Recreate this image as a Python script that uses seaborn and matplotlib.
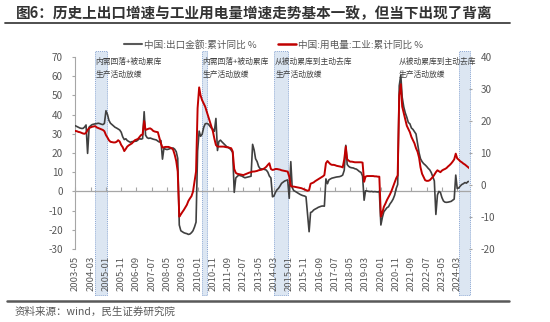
import numpy as np
import pandas as pd
import matplotlib
matplotlib.use("Agg")
import matplotlib.pyplot as plt
import matplotlib.dates as mdates
from matplotlib.patches import Rectangle
from matplotlib.lines import Line2D
from matplotlib.transforms import blended_transform_factory
import seaborn as sns

sns.set_theme(style="white")
plt.rcParams['font.family'] = ['Noto Sans CJK SC', 'DejaVu Sans']
plt.rcParams['axes.unicode_minus'] = False

# ---------------- data ----------------
start_month = "2003-05"

# 中国:出口金额:累计同比 %  (left axis), monthly 2003-05 .. 2024-11
export_yoy = [
    34.2, 33.8, 33.4, 33.0, 32.8, 32.8, 33.5, 34.6,                      # 2003 May-Dec
    19.8, 33.5, 34.2, 34.8, 35.0, 35.2, 35.3, 35.5, 35.3, 35.0, 34.8, 35.4,  # 2004
    42.0, 40.0, 37.0, 35.5, 34.8, 34.0, 33.4, 33.0, 32.5, 32.0, 30.8, 28.4,  # 2005
    27.0, 27.4, 26.5, 26.0, 25.6, 25.9, 26.0, 26.1, 26.2, 26.8, 27.5, 27.2,  # 2006
    27.5, 41.5, 29.3, 28.0, 27.6, 27.8, 27.5, 27.2, 27.0, 26.8, 26.2, 25.7,  # 2007
    26.5, 16.8, 22.4, 22.0, 21.8, 22.0, 22.3, 22.5, 22.6, 22.0, 20.7, 17.2,  # 2008
    -17.5, -20.5, -21.0, -21.5, -21.8, -22.0, -22.4, -22.2, -21.5, -20.5, -18.5, -16.0,  # 2009
    21.0, 31.4, 28.7, 29.7, 33.2, 35.2, 35.4, 35.1, 34.0, 33.0, 32.4, 31.3,  # 2010
    38.0, 21.3, 26.0, 26.7, 25.8, 25.0, 24.3, 23.4, 22.8, 22.4, 21.5, 20.3,  # 2011
    -0.5, 7.0, 7.8, 8.5, 8.2, 8.0, 7.5, 7.1, 7.3, 7.5, 7.7, 7.9,            # 2012
    24.5, 21.5, 17.0, 15.5, 13.0, 11.8, 11.7, 11.6, 11.4, 11.1, 10.0, 8.0,  # 2013
    7.0, -2.8, -2.5, -0.5, 0.8, 1.6, 2.8, 4.2, 4.8, 5.4, 5.7, 6.0,          # 2014
    -3.6, 15.5, 2.0, 0.4, 0.0, -0.5, -1.0, -1.5, -1.9, -2.2, -2.4, -2.8,    # 2015
    -12.0, -21.0, -11.0, -10.6, -9.7, -9.2, -8.8, -8.3, -8.0, -7.7, -7.6, -7.7,  # 2016
    6.5, 4.0, 6.0, 6.5, 6.9, 7.1, 7.3, 7.5, 7.6, 7.7, 8.0, 8.5,            # 2017
    11.0, 24.0, 14.0, 13.0, 12.5, 12.3, 12.2, 11.8, 11.6, 11.0, 10.3, 9.9,  # 2018
    8.0, -4.6, 0.3, 0.2, 0.0, -0.1, 0.0, -0.2, -0.1, -0.2, -0.3, 0.0,      # 2019
    -17.5, -13.4, -10.6, -9.5, -8.5, -8.0, -6.5, -5.4, -4.0, -2.0, 1.5, 3.6,  # 2020
    55.0, 60.6, 49.0, 44.0, 40.9, 38.6, 35.9, 35.2, 33.0, 32.3, 31.1, 29.9,  # 2021
    25.0, 20.0, 17.0, 15.5, 14.5, 13.8, 13.0, 12.0, 11.2, 9.8, 7.6, 5.5,    # 2022
    -12.0, -1.9, 0.0, -0.5, -3.2, -5.0, -5.6, -5.7, -5.6, -5.4, -5.2, -4.6,  # 2023
    -4.0, 8.5, 1.5, 1.8, 2.8, 3.6, 4.0, 4.6, 4.3, 5.1, 5.2,                # 2024 Jan-Nov
]

# 中国:用电量:工业:累计同比 %  (right axis)
power_yoy = [
    16.9, 16.8, 16.6, 16.5, 16.3, 16.1, 16.0, 16.3,                        # 2003 May-Dec
    17.2, 17.8, 18.0, 18.2, 18.3, 18.4, 18.0, 17.8, 17.6, 17.4, 17.2, 16.8,  # 2004
    15.6, 14.8, 14.0, 13.5, 13.4, 13.3, 13.3, 13.5, 14.0, 13.6, 12.5, 11.8,  # 2005
    10.6, 11.3, 12.0, 12.4, 12.7, 13.0, 13.5, 14.0, 14.2, 14.4, 15.0, 15.6,  # 2006
    15.8, 20.0, 17.2, 17.4, 17.6, 17.7, 17.4, 16.9, 16.7, 16.6, 16.5, 14.8,  # 2007
    13.0, 11.7, 11.8, 11.9, 11.9, 11.9, 11.7, 11.5, 11.0, 9.5, 7.5, 4.2,    # 2008
    -9.9, -9.2, -8.5, -7.8, -7.0, -6.2, -5.0, -4.2, -3.5, -2.1, 1.0, 4.2,   # 2009
    24.0, 30.5, 28.0, 26.5, 25.5, 24.5, 23.0, 21.5, 20.0, 18.3, 16.8, 14.5,  # 2010
    12.5, 12.0, 12.0, 12.0, 12.0, 12.0, 11.9, 11.8, 11.8, 11.6, 11.5, 10.5,  # 2011
    5.0, 3.8, 3.5, 3.4, 3.3, 3.2, 3.1, 3.3, 3.5, 3.7, 3.9, 4.0,            # 2012
    4.2, 4.2, 4.3, 4.4, 4.6, 4.7, 4.8, 5.0, 5.3, 5.7, 6.3, 6.8,            # 2013
    5.0, 4.7, 4.8, 5.0, 5.0, 4.9, 4.8, 4.6, 4.5, 4.4, 4.3, 4.2,            # 2014
    2.6, -0.3, -0.5, -0.5, -0.6, -0.7, -0.8, -0.9, -1.0, -1.2, -1.4, -1.6,  # 2015
    -1.8, -1.6, 0.4, 0.6, 0.8, 1.2, 1.5, 1.8, 2.1, 2.4, 2.7, 3.1,          # 2016
    6.8, 7.5, 7.0, 6.5, 6.3, 6.3, 6.2, 6.0, 5.9, 5.8, 5.7, 5.5,            # 2017
    8.0, 12.0, 8.0, 7.6, 7.3, 7.3, 7.2, 7.1, 7.1, 7.1, 7.1, 7.1,           # 2018
    7.0, 1.0, 2.6, 2.8, 2.8, 2.8, 2.8, 2.8, 2.7, 2.7, 2.6, 2.6,            # 2019
    -9.9, -8.5, -6.8, -5.8, -4.7, -3.8, -2.9, -1.8, -0.5, 0.8, 2.1, 3.0,   # 2020
    28.0, 31.5, 24.5, 22.4, 20.5, 18.5, 17.5, 16.5, 15.0, 14.0, 13.0, 11.5,  # 2021
    10.4, 8.5, 5.5, 3.5, 2.5, 1.5, 1.3, 1.3, 1.5, 2.0, 2.5, 3.2,           # 2022
    4.0, 4.6, 4.3, 4.0, 4.5, 4.8, 5.0, 5.3, 5.8, 6.2, 6.7, 7.3,            # 2023
    8.0, 9.8, 8.3, 7.9, 7.4, 7.1, 6.7, 6.4, 6.0, 5.6, 5.2,                 # 2024 Jan-Nov
]

series_names = ["中国:出口金额:累计同比 %", "中国:用电量:工业:累计同比 %"]
left_ticks = [-30, -20, -10, 0, 10, 20, 30, 40, 50, 60, 70]
right_ticks = [-20, -10, 0, 10, 20, 30, 40]

# shaded periods (start, end)
band_periods = [("2004-05-20", "2005-01-20"),
                ("2010-03-28", "2010-07-02"),
                ("2014-03-05", "2014-11-28"),
                ("2024-04-12", "2024-11-01")]
annot_dates = ["2004-06-08", "2010-04-01", "2014-03-25", "2020-12-20"]
annot_line1 = ["内需回落+被动累库", "内需回落+被动累库", "从被动累库到主动去库", "从被动累库到主动去库"]
annot_line2 = ["生产活动放缓", "生产活动放缓", "生产活动放缓", "生产活动放缓"]

title = "图6：历史上出口增速与工业用电量增速走势基本一致，但当下出现了背离"
source = "资料来源：wind，民生证券研究院"

assert len(export_yoy) == len(power_yoy)
dates = pd.date_range(start_month, periods=len(export_yoy), freq="MS")
df = pd.DataFrame({"date": dates, "export": export_yoy, "power": power_yoy})

GREY = "#404040"
RED = "#c00000"
TXT = "#595959"
AX = "#a6a6a6"

fig = plt.figure(figsize=(5.5, 3.22), dpi=100)
ax = fig.add_axes([75.3 / 550, 1 - 249 / 322, (469.5 - 75.3) / 550, 192 / 322])
ax2 = ax.twinx()

# bands
trans = blended_transform_factory(ax.transData, ax.transAxes)
for s, e in band_periods:
    x0 = mdates.date2num(pd.Timestamp(s))
    x1 = mdates.date2num(pd.Timestamp(e))
    r = Rectangle((x0, -0.24), x1 - x0, 1.272, transform=trans,
                  facecolor="#dce6f2", edgecolor="#8da9d4", lw=0.7,
                  linestyle=(0, (1, 1)), clip_on=False, zorder=0)
    ax.add_patch(r)

sns.lineplot(data=df, x="date", y="export", ax=ax, color=GREY, lw=1.2, zorder=3)
sns.lineplot(data=df, x="date", y="power", ax=ax2, color=RED, lw=1.4, zorder=3)

ax.set_xlim(dates[0], dates[-1])
ax.set_ylim(-30, 70)
ax2.set_ylim(-20, 40)
ax.set_yticks(left_ticks)
ax2.set_yticks(right_ticks)
ax.set_xlabel("")
ax.set_ylabel("")
ax2.set_ylabel("")

xt = dates[::10]
ax.set_xticks(xt)
ax.xaxis.set_major_formatter(mdates.DateFormatter("%Y-%m"))
ax.tick_params(axis="x", length=0, pad=5, labelsize=6.8, labelcolor=TXT, rotation=90)
ax.tick_params(axis="y", direction="out", length=2.5, width=0.8, color=AX,
               pad=6.5, labelsize=7.2, labelcolor=TXT, left=True)
ax2.tick_params(axis="y", direction="out", length=2.5, width=0.8, color=AX,
                pad=5.5, labelsize=7.2, labelcolor=TXT, right=True)

for sp in ["top", "right", "bottom"]:
    ax.spines[sp].set_visible(False)
ax.spines["left"].set_color(AX)
ax.spines["left"].set_linewidth(0.8)
for sp in ["top", "right", "bottom", "left"]:
    ax2.spines[sp].set_visible(False)
ax.grid(False)
ax2.grid(False)
if ax.get_legend():
    ax.get_legend().remove()

# zero line with ticks (category axis crossing at 0)
sec = ax.secondary_xaxis(0.3)
sec.set_xticks(mdates.date2num(xt))
sec.tick_params(axis="x", direction="in", length=3, width=0.8, color=AX,
                labelbottom=False, labeltop=False)
sec.spines["bottom"].set_color(AX)
sec.spines["bottom"].set_linewidth(0.9)

# annotations
for d, l1, l2 in zip(annot_dates, annot_line1, annot_line2):
    xd = mdates.date2num(pd.Timestamp(d))
    ax.text(xd, (249 - 61.5) / 192, l1, transform=trans, fontsize=5.6,
            color="#404040", ha="left", va="center", clip_on=False, zorder=5)
    ax.text(xd, (249 - 75) / 192, l2, transform=trans, fontsize=5.6,
            color="#404040", ha="left", va="center", clip_on=False, zorder=5)

# legend
handles = [Line2D([], [], color="#595959", lw=1.5), Line2D([], [], color=RED, lw=1.8)]
fig.legend(handles, series_names, loc="center", bbox_to_anchor=(273.5 / 550, 1 - 45 / 322),
           ncol=2, frameon=False, fontsize=6.9, labelcolor=TXT, handlelength=1.9,
           handletextpad=0.25, columnspacing=2.2)

# title, rules and source
fig.text(16 / 550, 1 - 13 / 322, title, fontsize=10.5, fontweight="bold",
         color="#333333", ha="left", va="center")
fig.add_artist(Line2D([5 / 550, 510 / 550], [1 - 22.5 / 322] * 2, color="#404040", lw=1.3))
fig.add_artist(Line2D([7 / 550, 509 / 550], [1 - 301 / 322] * 2, color="#595959", lw=1.8))
fig.text(15 / 550, 1 - 312 / 322, source, fontsize=7.6, color=TXT, ha="left", va="center")

fig.savefig("out.png", dpi=100)
